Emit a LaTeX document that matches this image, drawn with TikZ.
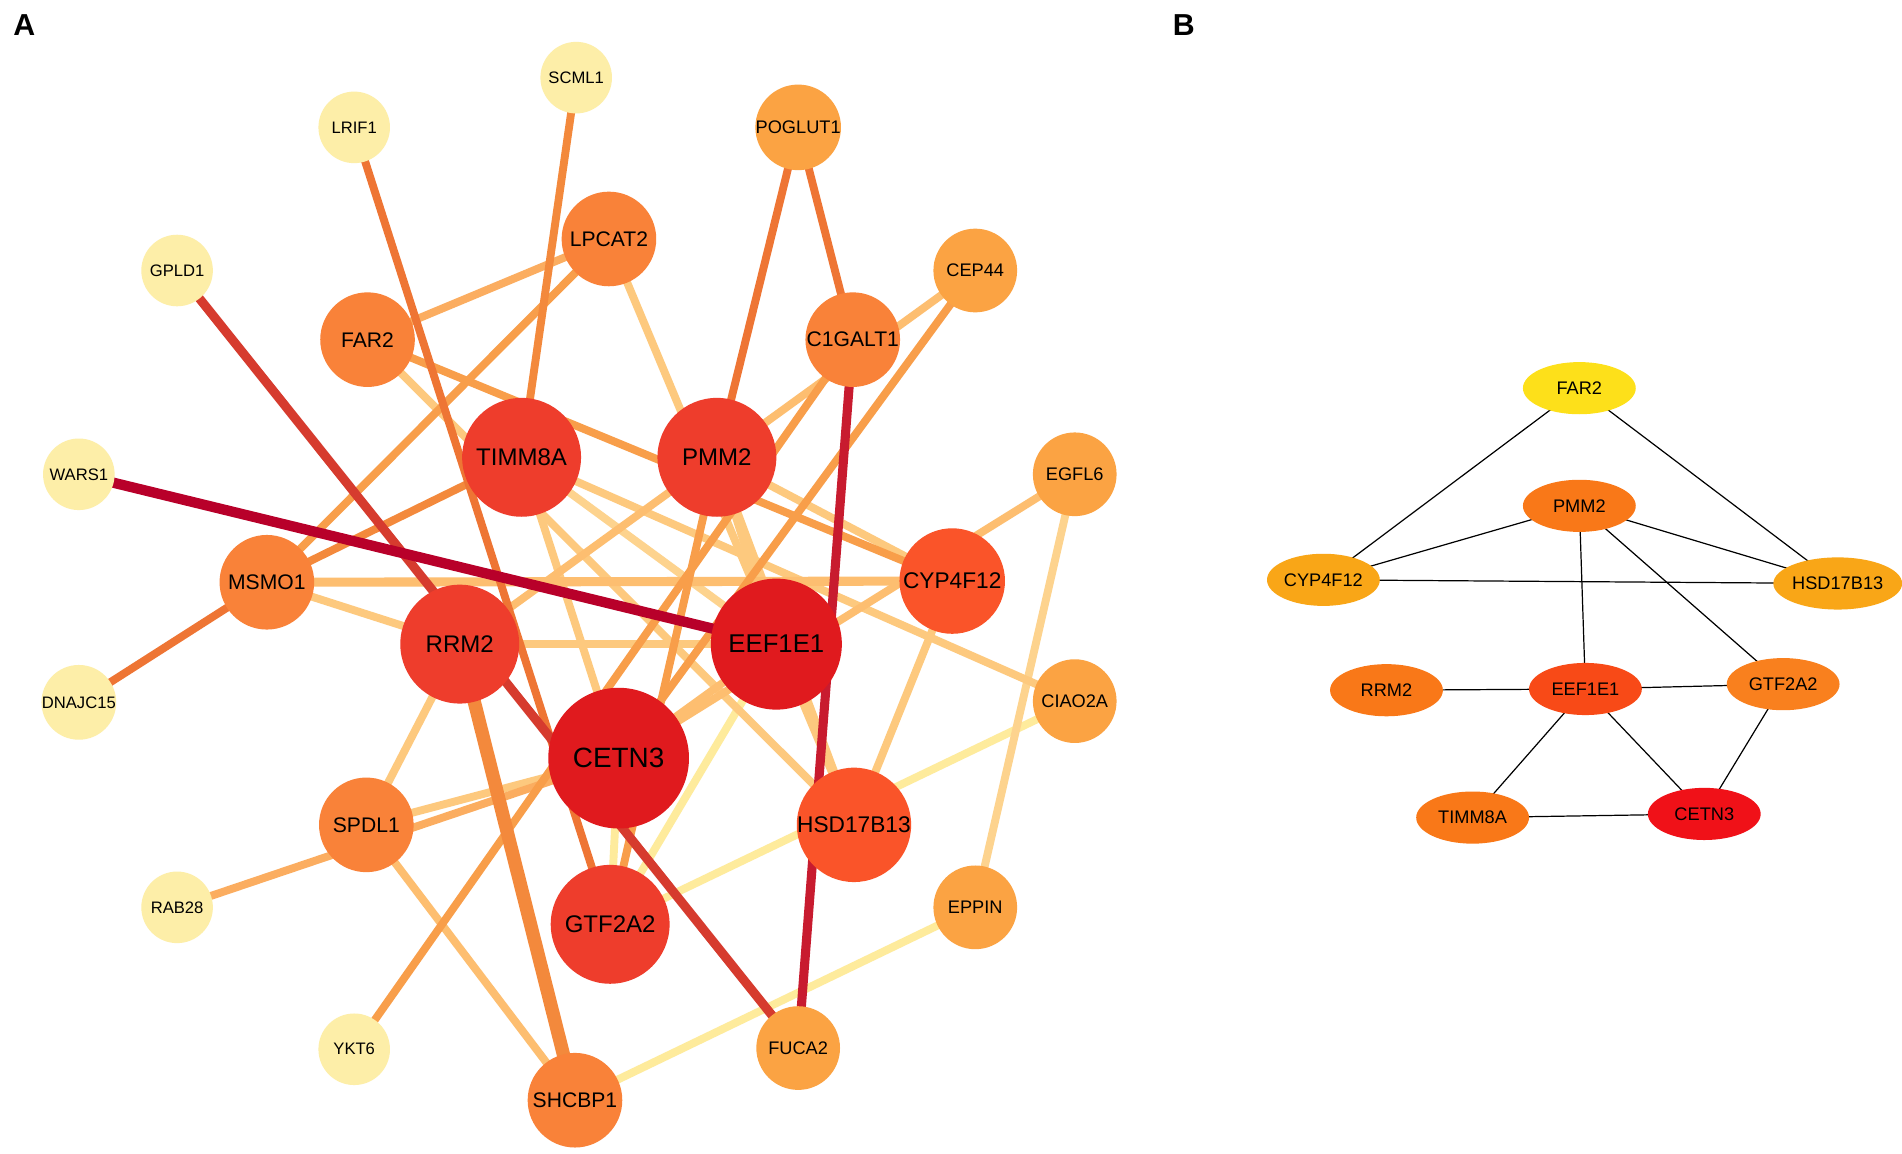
\documentclass[tikz,border=0pt]{standalone}
\usepackage{fontspec}
\setmainfont{Liberation Sans}
\usetikzlibrary{shapes.geometric}
\pgfdeclarelayer{bg}
\pgfsetlayers{bg,main}
% node colours
\definecolor{nPale}{HTML}{FDEEA8}
\definecolor{nLOr}{HTML}{FBA343}
\definecolor{nOr}{HTML}{F98239}
\definecolor{nRO}{HTML}{EE3D2C}
\definecolor{nOR}{HTML}{FA5429}
\definecolor{nRed}{HTML}{E01A1E}
% edge colours
\definecolor{eCrim}{HTML}{B8002A}
\definecolor{eCrimB}{HTML}{C81B2F}
\definecolor{eRed}{HTML}{D63B2E}
\definecolor{eOrD}{HTML}{EE7534}
\definecolor{eOrM}{HTML}{F3893C}
\definecolor{eOr}{HTML}{F89E4A}
\definecolor{eLOr}{HTML}{FBAD60}
\definecolor{eLt}{HTML}{FDBE70}
\definecolor{ePale}{HTML}{FDC97E}
\definecolor{ePaler}{HTML}{FDD38E}
\definecolor{eYel}{HTML}{FEEB9C}
% panel B colours
\definecolor{bYel}{HTML}{FDE01A}
\definecolor{bOrY}{HTML}{F9A617}
\definecolor{bOr}{HTML}{F97818}
\definecolor{bOr2}{HTML}{F9801E}
\definecolor{bRO}{HTML}{F84A17}
\definecolor{bRed}{HTML}{F01118}
\begin{document}
\begin{tikzpicture}[x=1pt,y=-1pt,
  nd/.style={circle,inner sep=0pt,text=black,draw=none},
  sm/.style={nd,minimum size=59pt,fill=nPale,font=\fontsize{13.7}{14}\selectfont},
  lo/.style={nd,minimum size=69pt,fill=nLOr,font=\fontsize{15}{15}\selectfont},
  md/.style={nd,minimum size=78pt,fill=nOr,font=\fontsize{17.4}{17}\selectfont},
  bg4/.style={nd,minimum size=98pt,fill=nRO,font=\fontsize{19.8}{20}\selectfont},
  bg3/.style={nd,minimum size=87pt,fill=nOR,font=\fontsize{18.7}{19}\selectfont},
  ed/.style={line width=6.5pt},
  bn/.style={ellipse,inner sep=0pt,minimum width=93pt,minimum height=43pt,text=black,draw=none,font=\fontsize{15}{15}\selectfont},
  be/.style={line width=1pt,black},
  plab/.style={font=\bfseries\fontsize{25}{25}\selectfont}]
\useasboundingbox (0,0) rectangle (1568,951);
\begin{pgfonlayer}{bg}
\fill[white] (0,0) rectangle (1568,951);
\end{pgfonlayer}

\node[plab] (labA) at (20,21) {A};
\node[plab] (labB) at (976,21) {B};

% ---------- panel A nodes ----------
\node[sm] (SCML1) at (475,64) {SCML1};
\node[sm] (LRIF1) at (292,105) {LRIF1};
\node[sm] (GPLD1) at (146,223) {GPLD1};
\node[sm] (WARS1) at (65,391) {WARS1};
\node[sm] (DNAJC15) at (65,579) {DNAJC15};
\node[sm] (RAB28) at (146,748) {RAB28};
\node[sm] (YKT6) at (292,865) {YKT6};

\node[lo] (POGLUT1) at (658,105) {POGLUT1};
\node[lo] (CEP44) at (804,223) {CEP44};
\node[lo] (EGFL6) at (886,391) {EGFL6};
\node[lo] (CIAO2A) at (886,578) {CIAO2A};
\node[lo] (EPPIN) at (804,748) {EPPIN};
\node[lo] (FUCA2) at (658,864) {FUCA2};

\node[md] (LPCAT2) at (502,197) {LPCAT2};
\node[md] (FAR2) at (303,280) {FAR2};
\node[md] (C1GALT1) at (703,280) {C1GALT1};
\node[md] (MSMO1) at (220,480) {MSMO1};
\node[md] (SPDL1) at (302,680) {SPDL1};
\node[md] (SHCBP1) at (474,907) {SHCBP1};

\node[bg4] (TIMM8A) at (430,377) {TIMM8A};
\node[bg4] (PMM2) at (591,377) {PMM2};
\node[bg4] (RRM2) at (379,531) {RRM2};
\node[bg4] (GTF2A2) at (503,762) {GTF2A2};

\node[bg3] (CYP4F12) at (785,479) {CYP4F12};
\node[bg3] (HSD17B13) at (704,680) {HSD17B13};

\node[nd,minimum size=108pt,fill=nRed,font=\fontsize{21.2}{21}\selectfont] (EEF1E1) at (640,531) {EEF1E1};
\node[nd,minimum size=116pt,fill=nRed,font=\fontsize{23}{23}\selectfont] (CETN3) at (510,625) {CETN3};

% ---------- panel A edges ----------
\begin{pgfonlayer}{bg}
\draw[ed,eYel] (CIAO2A.center) -- (GTF2A2.center);
\draw[ed,eYel] (EPPIN.center) -- (SHCBP1.center);
\draw[ed,eYel] (GTF2A2.center) -- (EEF1E1.center);
\draw[ed,eYel] (GTF2A2.center) -- (CETN3.center);
\draw[ed,ePaler] (EGFL6.center) -- (EPPIN.center);
\draw[ed,ePaler] (TIMM8A.center) -- (EEF1E1.center);
\draw[ed,ePale] (TIMM8A.center) -- (CIAO2A.center);
\draw[ed,ePale] (TIMM8A.center) -- (CETN3.center);
\draw[ed,ePale] (FAR2.center) -- (HSD17B13.center);
\draw[ed,ePale] (CYP4F12.center) -- (HSD17B13.center);
\draw[ed,ePale] (LPCAT2.center) -- (HSD17B13.center);
\draw[ed,ePale] (PMM2.center) -- (HSD17B13.center);
\draw[ed,ePale] (PMM2.center) -- (EEF1E1.center);
\draw[ed,ePale] (PMM2.center) -- (CYP4F12.center);
\draw[ed,ePale] (RRM2.center) -- (EEF1E1.center);
\draw[ed,ePale] (MSMO1.center) -- (RRM2.center);
\draw[ed,ePale] (SPDL1.center) -- (CETN3.center);
\draw[ed,ePale] (SPDL1.center) -- (RRM2.center);
\draw[ed,eLt] (CEP44.center) -- (RRM2.center);
\draw[ed,eLt] (EGFL6.center) -- (CETN3.center);
\draw[ed,eLt] (EEF1E1.center) -- (CETN3.center);
\draw[ed,eLt] (SPDL1.center) -- (SHCBP1.center);
\draw[ed,eLt,line width=7.5pt] (MSMO1.center) -- (CYP4F12.center);
\draw[ed,eLOr] (LPCAT2.center) -- (FAR2.center);
\draw[ed,eLOr] (RAB28.center) -- (CETN3.center);
\draw[ed,eOr] (LPCAT2.center) -- (MSMO1.center);
\draw[ed,eOr] (CEP44.center) -- (CETN3.center);
\draw[ed,eOr] (PMM2.center) -- (GTF2A2.center);
\draw[ed,eOr] (FAR2.center) -- (CYP4F12.center);
\draw[ed,eOr] (C1GALT1.center) -- (YKT6.center);
\draw[ed,eOrM] (SCML1.center) -- (TIMM8A.center);
\draw[ed,eOrM] (MSMO1.center) -- (TIMM8A.center);
\draw[ed,eOrM,line width=11pt] (RRM2.center) -- (SHCBP1.center);
\draw[ed,eOrD] (MSMO1.center) -- (DNAJC15.center);
\draw[ed,eOrD] (LRIF1.center) -- (GTF2A2.center);
\draw[ed,eOrD] (POGLUT1.center) -- (PMM2.center);
\draw[ed,eOrD] (POGLUT1.center) -- (C1GALT1.center);
\draw[ed,eRed,line width=7.5pt] (GPLD1.center) -- (FUCA2.center);
\draw[ed,eCrimB,line width=7.5pt] (C1GALT1.center) -- (FUCA2.center);
\draw[ed,eCrim,line width=8.5pt] (WARS1.center) -- (EEF1E1.center);
\end{pgfonlayer}

% ---------- panel B ----------
\node[bn,fill=bYel] (bFAR2) at (1302,320) {FAR2};
\node[bn,fill=bOr] (bPMM2) at (1302,417) {PMM2};
\node[bn,fill=bOrY] (bCYP4F12) at (1091,478) {CYP4F12};
\node[bn,fill=bOrY] (bHSD17B13) at (1515,481) {HSD17B13};
\node[bn,fill=bOr] (bRRM2) at (1143,569) {RRM2};
\node[bn,fill=bRO] (bEEF1E1) at (1307,568) {EEF1E1};
\node[bn,fill=bOr2] (bGTF2A2) at (1470,564) {GTF2A2};
\node[bn,fill=bOr] (bTIMM8A) at (1214,674) {TIMM8A};
\node[bn,fill=bRed] (bCETN3) at (1405,671) {CETN3};

\begin{pgfonlayer}{bg}
\draw[be] (bFAR2.center) -- (bCYP4F12.center);
\draw[be] (bFAR2.center) -- (bHSD17B13.center);
\draw[be] (bPMM2.center) -- (bCYP4F12.center);
\draw[be] (bPMM2.center) -- (bHSD17B13.center);
\draw[be] (bPMM2.center) -- (bEEF1E1.center);
\draw[be] (bPMM2.center) -- (bGTF2A2.center);
\draw[be] (bCYP4F12.center) -- (bHSD17B13.center);
\draw[be] (bRRM2.center) -- (bEEF1E1.center);
\draw[be] (bEEF1E1.center) -- (bGTF2A2.center);
\draw[be] (bEEF1E1.center) -- (bTIMM8A.center);
\draw[be] (bEEF1E1.center) -- (bCETN3.center);
\draw[be] (bTIMM8A.center) -- (bCETN3.center);
\draw[be] (bGTF2A2.center) -- (bCETN3.center);
\end{pgfonlayer}
\end{tikzpicture}
\end{document}
